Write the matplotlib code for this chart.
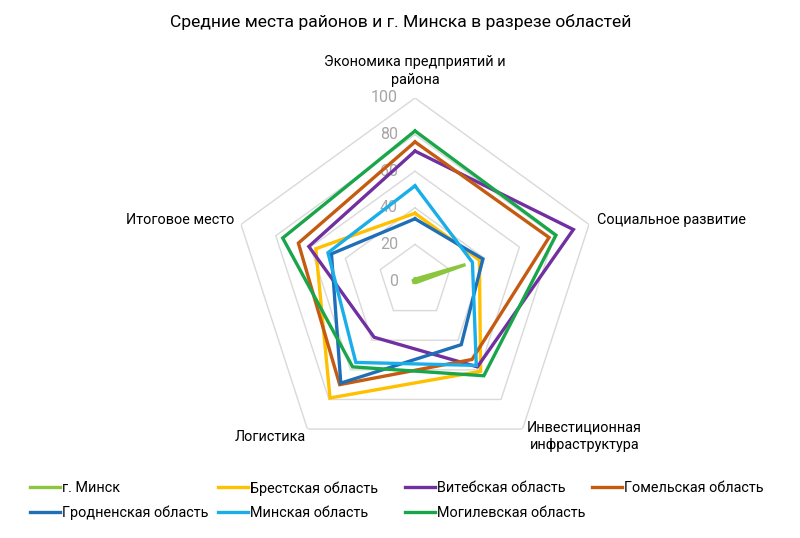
import numpy as np
import matplotlib
matplotlib.use("Agg")
import matplotlib.pyplot as plt

plt.rcParams['font.family'] = ['Roboto', 'DejaVu Sans']

categories = ["Экономика предприятий и\nрайона", "Социальное развитие",
              "Инвестиционная\nинфраструктура", "Логистика", "Итоговое место"]
series_names = ["г. Минск", "Брестская область", "Витебская область", "Гомельская область",
                "Гродненская область", "Минская область", "Могилевская область"]
minsk_city = [1, 29, 1, 1, 1]
brest = [37, 37, 61, 79, 57]
vitebsk = [71, 91, 58, 38, 61]
gomel = [76, 77, 53, 70, 67]
grodno = [34, 39, 43, 69, 48]
minsk_obl = [52, 33, 57, 55, 50]
mogilev = [82, 81, 64, 58, 76]
values = [minsk_city, brest, vitebsk, gomel, grodno, minsk_obl, mogilev]
colors = ["#8cc63f", "#ffc000", "#7030a0", "#c55a11", "#1f6fb8", "#19aee8", "#19a64a"]
ticks = [0, 20, 40, 60, 80, 100]

W, H = 800, 538
fig = plt.figure(figsize=(W/100, H/100), dpi=100)
cx, cy, R = 415, 281, 183
ax = fig.add_axes([(cx-R)/W, (H-cy-R)/H, 2*R/W, 2*R/H], projection='polar')
ax.set_theta_offset(np.pi/2)
ax.set_theta_direction(-1)
ax.set_ylim(0, 100)
ax.grid(False)
ax.spines['polar'].set_visible(False)
ax.set_xticks([])
ax.set_yticks([])
ax.patch.set_alpha(0)

n = len(categories)
theta = np.linspace(0, 2*np.pi, n, endpoint=False)
theta_c = np.concatenate([theta, theta[:1]])

for t in ticks[1:]:
    ax.plot(theta_c, [t]*(n+1), color="#d9d9d9", lw=1.0, zorder=1)
for t in ticks:
    ax.annotate(str(t), xy=(0, t), xytext=(-17, 0), textcoords='offset pixels',
                ha='right', va='center', fontsize=11.5, color="#a6a6a6", zorder=2)

handles = []
for name, vals, col in zip(series_names, values, colors):
    v = list(vals) + [vals[0]]
    ln, = ax.plot(theta_c, v, color=col, lw=2.4, label=name, zorder=3, solid_joinstyle='miter')
    handles.append(ln)

lab_fs = 10.4
ax.annotate(categories[0], xy=(theta[0], 100), xytext=(0, 27), textcoords='offset pixels',
            ha='center', va='center', fontsize=lab_fs, linespacing=1.3)
ax.annotate(categories[1], xy=(theta[1], 100), xytext=(8, 4), textcoords='offset pixels',
            ha='left', va='center', fontsize=lab_fs)
ax.annotate(categories[2], xy=(theta[2], 100), xytext=(62, -7), textcoords='offset pixels',
            ha='center', va='center', fontsize=lab_fs, linespacing=1.3)
ax.annotate(categories[3], xy=(theta[3], 100), xytext=(-2, -8), textcoords='offset pixels',
            ha='right', va='center', fontsize=lab_fs)
ax.annotate(categories[4], xy=(theta[4], 100), xytext=(-7, 4), textcoords='offset pixels',
            ha='right', va='center', fontsize=lab_fs)

fig.text(401/W, 1-22/H, "Средние места районов и г. Минска в разрезе областей",
         ha='center', va='center', fontsize=12.6)

col_x = [30, 218, 405, 592]
cols = [[0, 4], [1, 5], [2, 6], [3]]
for x, idxs in zip(col_x, cols):
    fig.legend([handles[i] for i in idxs], [series_names[i] for i in idxs],
               loc='upper left', bbox_to_anchor=(x/W, 1-481/H), frameon=False,
               fontsize=10.4, handlelength=2.05, handletextpad=0.15, labelspacing=0.75,
               borderpad=0, borderaxespad=0)

fig.savefig("out.png", dpi=100)
